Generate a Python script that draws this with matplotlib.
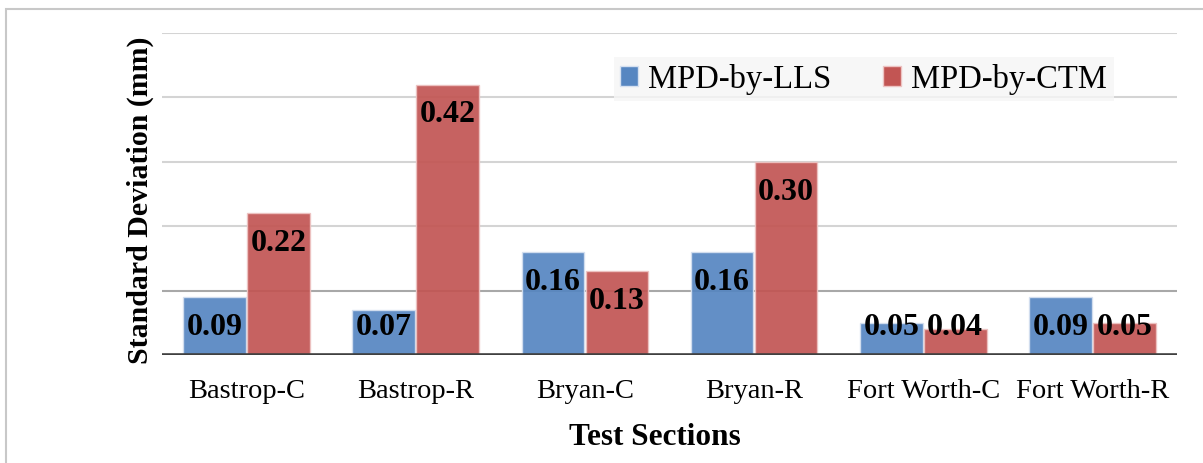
import numpy as np
import matplotlib.pyplot as plt
from matplotlib.patches import Rectangle

sections = ['Bastrop-C', 'Bastrop-R', 'Bryan-C', 'Bryan-R', 'Fort Worth-C', 'Fort Worth-R']
lls = [0.09, 0.07, 0.16, 0.16, 0.05, 0.09]
ctm = [0.22, 0.42, 0.13, 0.30, 0.04, 0.05]
series_names = ['MPD-by-LLS', 'MPD-by-CTM']

plt.rcParams['font.family'] = ['Liberation Serif', 'DejaVu Serif']

fig = plt.figure(figsize=(12.03, 4.63), dpi=100)
ax = fig.add_axes([162 / 1203, 1 - 355 / 463, (1177 - 162) / 1203, (355 - 33) / 463])

# light frame around the whole chart
fig.patches.append(Rectangle((6 / 1203, -0.1), 1.2, 1 - 9 / 463 + 0.1, transform=fig.transFigure,
                             fill=False, edgecolor='#c8c8c8', linewidth=1.5))

x = np.arange(len(sections))
w = 0.37
b1 = ax.bar(x - w / 2 - 0.004, lls, w, color='#5686c1', alpha=0.92, edgecolor='#d5e0f0',
            linewidth=1, zorder=2, label=series_names[0])
b2 = ax.bar(x + w / 2 + 0.004, ctm, w, color='#c25553', alpha=0.92, edgecolor='#edc3c2',
            linewidth=1, zorder=2, label=series_names[1])

# labels sit inside the bar end, but never drop below a minimum height
for bars, vals in [(b1, lls), (b2, ctm)]:
    for rect, v in zip(bars, vals):
        ax.text(rect.get_x() + rect.get_width() / 2, max(v - 0.047, 0.043), f'{v:.2f}',
                ha='center', va='center', fontsize=23, fontweight='bold', zorder=4)

ax.set_xlim(-0.5, len(sections) - 0.5)
ax.set_ylim(0, 0.5)
ax.set_yticks(np.arange(0, 0.51, 0.1))
ax.yaxis.grid(True, color='#d4d4d4', linewidth=1.5, zorder=1)
ax.get_ygridlines()[1].set_color('#a8a8a8')
ax.set_axisbelow(True)
ax.tick_params(axis='y', left=False, labelleft=False)
ax.tick_params(axis='x', bottom=False, labelsize=20.5, pad=14)
ax.set_xticks(x)
ax.set_xticklabels(sections)
for s in ax.spines.values():
    s.set_visible(False)
ax.axhline(0, color='#404040', linewidth=2.6, zorder=3)

ax.set_xlabel('Test Sections', fontsize=22.5, fontweight='bold')
ax.xaxis.set_label_coords(0.486, -0.21)
ax.set_ylabel('Standard Deviation (mm)', fontsize=21.5, fontweight='bold')
ax.yaxis.set_label_coords(-0.008, 0.48)

leg = ax.legend(loc='upper left', bbox_to_anchor=(0.445, 0.925), ncol=2, frameon=True,
                fontsize=23.5, handlelength=0.55, handleheight=0.55, handletextpad=0.3,
                columnspacing=1.6, borderpad=0.2, borderaxespad=0, fancybox=False)
leg.get_frame().set_facecolor('#f6f6f6')
leg.get_frame().set_edgecolor('none')
for h in leg.legend_handles:
    h.set_alpha(1)

fig.savefig('out.png', dpi=100)
